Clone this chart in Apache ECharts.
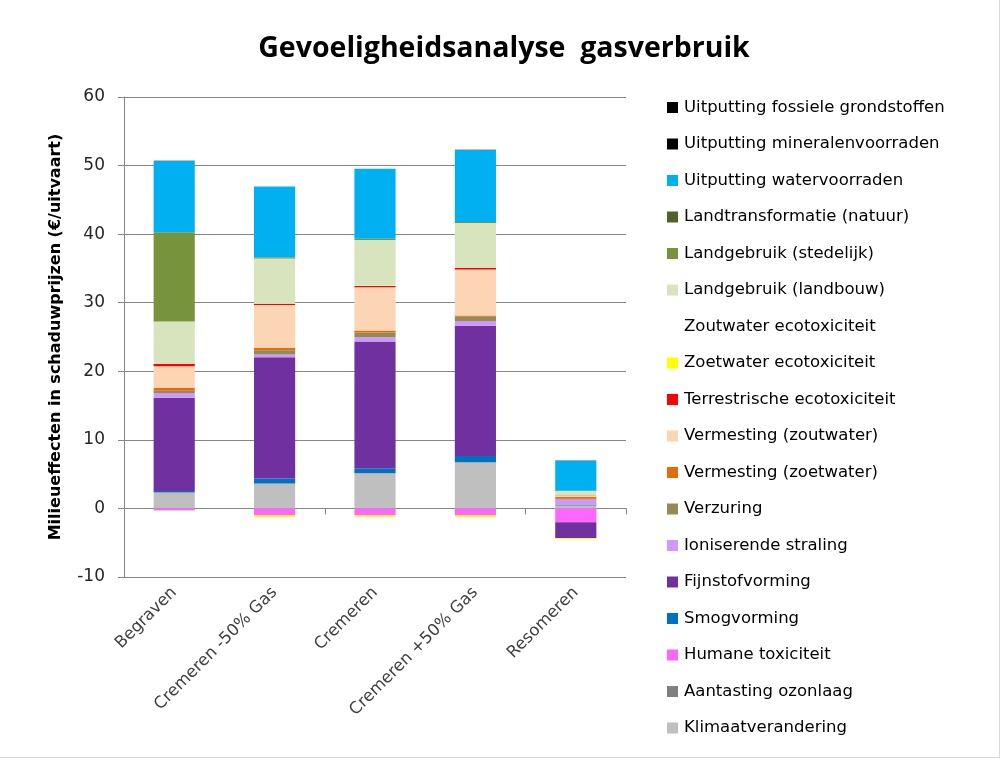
<!DOCTYPE html>
<html>
<head>
<meta charset="utf-8">
<script src="https://cdn.jsdelivr.net/npm/echarts@6/dist/echarts.min.js"></script>
<style>
  html, body { margin: 0; padding: 0; background: #fff; }
  #chart { width: 1000px; height: 758px; box-sizing: border-box; border-right: 1px solid #d9d9d9; border-bottom: 1px solid #d9d9d9; }
</style>
</head>
<body>
<div id="chart"></div>
<script>
// categories
var categories = ['Begraven', 'Cremeren -50% Gas', 'Cremeren', 'Cremeren +50% Gas', 'Resomeren'];
var yTicks = [-10, 0, 10, 20, 30, 40, 50, 60];

// series values, bottom of the stack first
var klimaatverandering   = [2.3, 3.6, 5.1, 6.7, 0.4];
var aantastingOzonlaag   = [0.05, 0.05, 0.05, 0.05, 0.05];
var humaneToxiciteit     = [-0.3, -1.0, -1.0, -1.0, -2.0];
var smogvorming          = [0.2, 0.7, 0.7, 0.9, 0.05];
var fijnstofvorming      = [13.6, 17.7, 18.5, 19.0, -2.3];
var ioniserendeStraling  = [0.7, 0.4, 0.6, 0.7, 0.8];
var verzuring            = [0.3, 0.6, 0.7, 0.6, 0.1];
var vermestingZoetwater  = [0.4, 0.4, 0.3, 0.2, 0.3];
var vermestingZoutwater  = [3.2, 6.2, 6.3, 6.7, 0.2];
var terrestrischeEcotox  = [0.3, 0.2, 0.2, 0.25, 0.02];
var zoetwaterEcotox      = [-0.05, -0.25, -0.2, -0.25, -0.15];
var zoutwaterEcotox      = [0.01, 0.01, 0.01, 0.01, 0.01];
var landgebruikLandbouw  = [6.2, 6.6, 6.7, 6.5, 0.6];
var landgebruikStedelijk = [13.0, 0.15, 0.15, 0.15, 0.02];
var landtransformatie    = [0.02, 0.02, 0.02, 0.02, 0.01];
var uitputtingWater      = [10.4, 10.3, 10.2, 10.5, 4.4];
var uitputtingMineralen  = [0.01, 0.01, 0.01, 0.01, 0.01];
var uitputtingFossiel    = [0.01, 0.01, 0.01, 0.01, 0.01];

var seriesDefs = [
    ['Klimaatverandering', klimaatverandering, '#BFBFBF'],
    ['Aantasting ozonlaag', aantastingOzonlaag, '#808080'],
    ['Humane toxiciteit', humaneToxiciteit, '#FF66FF'],
    ['Smogvorming', smogvorming, '#0070C0'],
    ['Fijnstofvorming', fijnstofvorming, '#7030A0'],
    ['Ioniserende straling', ioniserendeStraling, '#CC99FF'],
    ['Verzuring', verzuring, '#948A54'],
    ['Vermesting (zoetwater)', vermestingZoetwater, '#E46C0A'],
    ['Vermesting (zoutwater)', vermestingZoutwater, '#FCD5B5'],
    ['Terrestrische ecotoxiciteit', terrestrischeEcotox, '#FF0000'],
    ['Zoetwater ecotoxiciteit', zoetwaterEcotox, '#FFFF00'],
    ['Zoutwater ecotoxiciteit', zoutwaterEcotox, 'rgba(255,255,255,0)'],
    ['Landgebruik (landbouw)', landgebruikLandbouw, '#D7E4BD'],
    ['Landgebruik (stedelijk)', landgebruikStedelijk, '#77933C'],
    ['Landtransformatie (natuur)', landtransformatie, '#4F6228'],
    ['Uitputting watervoorraden', uitputtingWater, '#00B0F0'],
    ['Uitputting mineralenvoorraden', uitputtingMineralen, '#000000'],
    ['Uitputting fossiele grondstoffen', uitputtingFossiel, '#000000']
];

var series = seriesDefs.map(function (d) {
    return {
        name: d[0],
        type: 'bar',
        stack: 'total',
        barWidth: '41%',
        data: d[1],
        itemStyle: { color: d[2] }
    };
});

var legendNames = seriesDefs.map(function (d) { return d[0]; }).reverse();

var option = {
    animation: false,
    textStyle: { fontFamily: 'DejaVu Sans' },
    title: {
        text: 'Gevoeligheidsanalyse  gasverbruik',
        left: 499,
        textAlign: 'center',
        top: 29,
        textStyle: { fontSize: 28.5, fontWeight: 'bold', color: '#000', fontFamily: 'Open Sans' }
    },
    legend: {
        orient: 'vertical',
        left: 662,
        top: 94,
        icon: 'rect',
        itemWidth: 11,
        itemHeight: 11,
        itemGap: 19.5,
        data: legendNames,
        textStyle: { fontSize: 16.5, color: '#000', fontFamily: 'DejaVu Sans', padding: [0, 0, 0, 1] }
    },
    grid: { left: 124, right: 373, top: 97, bottom: 180 },
    xAxis: [
        {
            type: 'category',
            data: categories,
            position: 'bottom',
            axisLine: { show: false, onZero: false },
            axisTick: { show: false },
            axisLabel: { rotate: 45, fontSize: 16.5, color: '#404040', margin: 13, interval: 0, fontFamily: 'DejaVu Sans' }
        },
        {
            type: 'category',
            data: categories,
            position: 'bottom',
            axisLine: { show: true, onZero: true, lineStyle: { color: '#868686', width: 1 } },
            axisTick: { show: true, length: 6, lineStyle: { color: '#868686' } },
            axisLabel: { show: false }
        }
    ],
    yAxis: {
        type: 'value',
        min: yTicks[0],
        max: yTicks[yTicks.length - 1],
        interval: 10,
        name: 'Milieueffecten in schaduwprijzen (€/uitvaart)',
        nameLocation: 'middle',
        nameGap: 60,
        nameRotate: 90,
        nameTextStyle: { fontSize: 16, fontWeight: 'bold', color: '#000', fontFamily: 'DejaVu Sans' },
        axisLine: { show: true, lineStyle: { color: '#868686' } },
        axisTick: { show: true, length: 6, inside: false, lineStyle: { color: '#868686' } },
        axisLabel: { fontSize: 17, color: '#262626', margin: 19, fontFamily: 'DejaVu Sans' },
        splitLine: { lineStyle: { color: '#868686', width: 1 } }
    },
    series: series
};

var myChart = echarts.init(document.getElementById('chart'));
myChart.setOption(option);
</script>
</body>
</html>
